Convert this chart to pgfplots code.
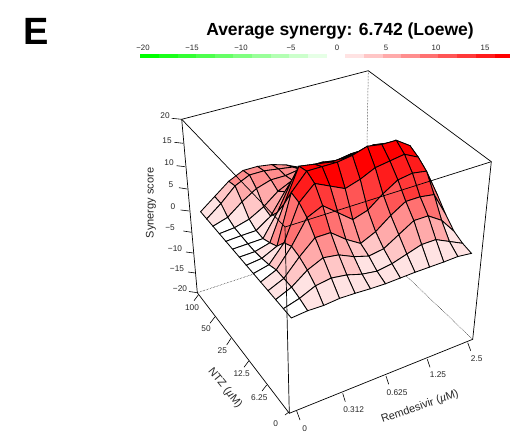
\documentclass[border=0pt]{standalone}
\usepackage{pgfplots}
\usepackage{pgfplotstable}
\pgfplotsset{compat=1.18}
\usepackage{fontspec}
\setmainfont{Liberation Sans}
\newcommand\fs[1]{\fontsize{#1}{#1}\selectfont}
\newcommand\UU{(.04+.0775*\thisrow{i})}
\newcommand\VV{(.04+.0715*\thisrow{j})}
\newcommand\WW{((\thisrow{z}+20)/40)}
\pgfplotstableread[row sep=\\]{
i j z\\
12 13 .5\\ 11 13 1\\ 10 13 1.5\\ 9 13 2\\ 8 13 2.8\\ 7 13 3.5\\ 6 13 5\\ 5 13 6\\ 4 13 6.5\\ 3 13 6.5\\ 2 13 5\\ 1 13 2.5\\ 0 13 0\\
12 12 1\\ 11 12 2\\ 10 12 2.5\\ 9 12 3\\ 8 12 4\\ 7 12 5\\ 6 12 6\\ 5 12 6.5\\ 4 12 7\\ 3 12 7\\ 2 12 5.5\\ 1 12 2.5\\ 0 12 0\\
12 11 2.5\\ 11 11 4\\ 10 11 5\\ 9 11 5\\ 8 11 5.5\\ 7 11 6.5\\ 6 11 7\\ 5 11 6.5\\ 4 11 6.5\\ 3 11 5.5\\ 2 11 3.5\\ 1 11 1\\ 0 11 0\\
12 10 4.5\\ 11 10 6\\ 10 10 7\\ 9 10 7.5\\ 8 10 7.5\\ 7 10 8\\ 6 10 8\\ 5 10 7\\ 4 10 5.5\\ 3 10 3\\ 2 10 1.2\\ 1 10 .3\\ 0 10 0\\
12 9 7\\ 11 9 9\\ 10 9 10\\ 9 9 10.5\\ 8 9 10.5\\ 7 9 10.5\\ 6 9 10.5\\ 5 9 9.5\\ 4 9 7\\ 3 9 2.5\\ 2 9 .3\\ 1 9 .2\\ 0 9 0\\
12 8 9\\ 11 8 12\\ 10 8 13\\ 9 8 13\\ 8 8 13\\ 7 8 12.5\\ 6 8 13\\ 5 8 13\\ 4 8 11\\ 3 8 5\\ 2 8 .2\\ 1 8 .1\\ 0 8 0\\
12 7 10\\ 11 7 14\\ 10 7 15\\ 9 7 15.5\\ 8 7 15\\ 7 7 14.5\\ 6 7 14.5\\ 5 7 15\\ 4 7 15.5\\ 3 7 8.5\\ 2 7 1\\ 1 7 .1\\ 0 7 0\\
12 6 10\\ 11 6 15\\ 10 6 17\\ 9 6 17\\ 8 6 17.5\\ 7 6 16.5\\ 6 6 16\\ 5 6 16\\ 4 6 16\\ 3 6 12.5\\ 2 6 2\\ 1 6 .4\\ 0 6 0\\
12 5 8\\ 11 5 14\\ 10 5 15.5\\ 9 5 15\\ 8 5 14.5\\ 7 5 13\\ 6 5 12\\ 5 5 13.5\\ 4 5 15\\ 3 5 12\\ 2 5 4.5\\ 1 5 .8\\ 0 5 0\\
12 4 6\\ 11 4 12.5\\ 10 4 13\\ 9 4 12.5\\ 8 4 10.5\\ 7 4 8\\ 6 4 7\\ 5 4 9.5\\ 4 4 12\\ 3 4 10.5\\ 2 4 5.5\\ 1 4 1.5\\ 0 4 0\\
12 3 3.5\\ 11 3 9\\ 10 3 9.5\\ 9 3 9.5\\ 8 3 7.5\\ 7 3 5\\ 6 3 3.5\\ 5 3 5.5\\ 4 3 8\\ 3 3 8\\ 2 3 5\\ 1 3 1.5\\ 0 3 0\\
12 2 1.5\\ 11 2 5\\ 10 2 7\\ 9 2 7\\ 8 2 5\\ 7 2 3\\ 6 2 2.5\\ 5 2 3.5\\ 4 2 5\\ 3 2 5.5\\ 2 2 4\\ 1 2 1.5\\ 0 2 0\\
12 1 .5\\ 11 1 2\\ 10 1 3.5\\ 9 1 3.5\\ 8 1 2.5\\ 7 1 1.5\\ 6 1 1\\ 5 1 1.5\\ 4 1 2.5\\ 3 1 3\\ 2 1 2.5\\ 1 1 1\\ 0 1 0\\
12 0 0\\ 11 0 .4\\ 10 0 .3\\ 9 0 .3\\ 8 0 .3\\ 7 0 .2\\ 6 0 .1\\ 5 0 .2\\ 4 0 .4\\ 3 0 .5\\ 2 0 .2\\ 1 0 .3\\ 0 0 0\\
}\surface
\begin{document}
\begin{tikzpicture}
\begin{axis}[width=524pt,height=430pt,scale only axis,xmin=0,xmax=524,ymin=0,ymax=430,y dir=reverse,hide axis,clip=false,
  every axis plot/.append style={forget plot},
  colormap={syn}{rgb255=(0,255,0) rgb255=(26,255,26) rgb255=(51,255,51) rgb255=(77,255,77) rgb255=(102,255,102) rgb255=(128,255,128) rgb255=(153,255,153) rgb255=(179,255,179) rgb255=(204,255,204) rgb255=(230,255,230) rgb255=(255,255,255) rgb255=(255,227,227) rgb255=(255,198,198) rgb255=(255,170,170) rgb255=(255,142,142) rgb255=(255,113,113) rgb255=(255,85,85) rgb255=(255,57,57) rgb255=(255,28,28) rgb255=(255,0,0)},
  colormap access=piecewise constant,point meta min=-18,point meta max=16]
\addplot[draw=none] coordinates {(0,0)(524,430)};
% colour bar
\addplot[draw=none,fill={rgb,255:red,0;green,255;blue,0}] coordinates {(140,54)(159,54)(159,58)(140,58)} --cycle;
\addplot[draw=none,fill={rgb,255:red,26;green,255;blue,26}] coordinates {(159,54)(178,54)(178,58)(159,58)} --cycle;
\addplot[draw=none,fill={rgb,255:red,51;green,255;blue,51}] coordinates {(178,54)(196,54)(196,58)(178,58)} --cycle;
\addplot[draw=none,fill={rgb,255:red,77;green,255;blue,77}] coordinates {(196,54)(215,54)(215,58)(196,58)} --cycle;
\addplot[draw=none,fill={rgb,255:red,102;green,255;blue,102}] coordinates {(215,54)(233,54)(233,58)(215,58)} --cycle;
\addplot[draw=none,fill={rgb,255:red,128;green,255;blue,128}] coordinates {(233,54)(252,54)(252,58)(233,58)} --cycle;
\addplot[draw=none,fill={rgb,255:red,153;green,255;blue,153}] coordinates {(252,54)(271,54)(271,58)(252,58)} --cycle;
\addplot[draw=none,fill={rgb,255:red,179;green,255;blue,179}] coordinates {(271,54)(289,54)(289,58)(271,58)} --cycle;
\addplot[draw=none,fill={rgb,255:red,204;green,255;blue,204}] coordinates {(289,54)(308,54)(308,58)(289,58)} --cycle;
\addplot[draw=none,fill={rgb,255:red,230;green,255;blue,230}] coordinates {(308,54)(327,54)(327,58)(308,58)} --cycle;
\addplot[draw=none,fill={rgb,255:red,255;green,227;blue,227}] coordinates {(345,54)(364,54)(364,58)(345,58)} --cycle;
\addplot[draw=none,fill={rgb,255:red,255;green,198;blue,198}] coordinates {(364,54)(383,54)(383,58)(364,58)} --cycle;
\addplot[draw=none,fill={rgb,255:red,255;green,170;blue,170}] coordinates {(383,54)(401,54)(401,58)(383,58)} --cycle;
\addplot[draw=none,fill={rgb,255:red,255;green,142;blue,142}] coordinates {(401,54)(420,54)(420,58)(401,58)} --cycle;
\addplot[draw=none,fill={rgb,255:red,255;green,113;blue,113}] coordinates {(420,54)(438,54)(438,58)(420,58)} --cycle;
\addplot[draw=none,fill={rgb,255:red,255;green,85;blue,85}] coordinates {(438,54)(457,54)(457,58)(438,58)} --cycle;
\addplot[draw=none,fill={rgb,255:red,255;green,57;blue,57}] coordinates {(457,54)(476,54)(476,58)(457,58)} --cycle;
\addplot[draw=none,fill={rgb,255:red,255;green,28;blue,28}] coordinates {(476,54)(495,54)(495,58)(476,58)} --cycle;
\addplot[draw=none,fill={rgb,255:red,255;green,0;blue,0}] coordinates {(495,54)(510,54)(510,58)(495,58)} --cycle;
% hidden box edges
\addplot[black,line width=.5pt,densely dotted] coordinates {(197.3,292.7)(365.4,237)(472.7,339.3)};
\addplot[black,line width=.5pt,densely dotted] coordinates {(365.4,237)(368.3,70.7)};
\addplot[black,line width=.7pt] coordinates {(181.7,119.3)(368.3,70.7)(491.3,161.7)};
% surface
\addplot[surf,shader=faceted,faceted color=black,line width=.85pt,mesh/cols=13,mesh/rows=14,point meta=\thisrow{z}]
 table[x expr={(228.3*\UU-62*\VV-39.9*\WW+289.3)/(1+.095*\UU+.152*\VV-.125*\WW)},
       y expr={(-41.77*\UU-76.1*\VV-214.7*\WW+413.3)/(1+.095*\UU+.152*\VV-.125*\WW)}] {\surface};
% front box edges
\addplot[black,line width=.7pt] coordinates {(181.7,119.3)(285,227)(491.3,161.7)};
\addplot[black,line width=.7pt] coordinates {(285,227)(289.3,413.3)};
\addplot[black,line width=.7pt] coordinates {(181.7,119.3)(197.3,292.7)(289.3,413.3)(472.7,339.3)(491.3,161.7)};
% ticks
\addplot[black,line width=.6pt] coordinates {(171.7,118.3)(181.7,119.3)};
\addplot[black,line width=.6pt] coordinates {(174.3,142.3)(183.3,143.3)};
\addplot[black,line width=.6pt] coordinates {(176.7,165.7)(185,166.7)};
\addplot[black,line width=.6pt] coordinates {(179,187.7)(187.3,189)};
\addplot[black,line width=.6pt] coordinates {(180.7,210)(189.3,211)};
\addplot[black,line width=.6pt] coordinates {(183.3,231)(191.7,232.3)};
\addplot[black,line width=.6pt] coordinates {(186,252)(193.5,253)};
\addplot[black,line width=.6pt] coordinates {(188,272)(195.5,273)};
\addplot[black,line width=.6pt] coordinates {(189,291.5)(197.3,292.7)};
\addplot[black,line width=.6pt] coordinates {(198.3,295)(194,300.7)};
\addplot[black,line width=.6pt] coordinates {(215,316.7)(210,323.3)};
\addplot[black,line width=.6pt] coordinates {(231,338.3)(226.7,345)};
\addplot[black,line width=.6pt] coordinates {(248.7,361)(244,367.3)};
\addplot[black,line width=.6pt] coordinates {(266.7,385)(262,391)};
\addplot[black,line width=.6pt] coordinates {(289.3,411.7)(285,415)};
\addplot[black,line width=.6pt] coordinates {(296.7,411)(300,420)};
\addplot[black,line width=.6pt] coordinates {(342.7,393.3)(345.3,401.7)};
\addplot[black,line width=.6pt] coordinates {(386,376)(388.7,384.3)};
\addplot[black,line width=.6pt] coordinates {(427.3,359.3)(430,367.3)};
\addplot[black,line width=.6pt] coordinates {(467.7,342.7)(470.7,350.7)};
% text
\node[font=\bfseries\fs{38}] at (axis cs:36,31) {E};
\node[font=\bfseries\fs{17.5}] at (axis cs:340,31) {Average synergy: 6.742 (Loewe)};
\foreach \x/\t in {143/−20,192/−15,241/−10,291/−5,337/0,386/5,436/10,485/15}
  {\edef\tmp{\noexpand\node[font=\noexpand\fs{7.8},text=black!85] at (axis cs:\x,48) {\t};}\tmp}
\foreach \x/\y/\t in {165/116/20,167/141/15,169/163/10,171/185/5,173/207/0,170/228/−5,175/249/−10,177/269/−15,180/289/−20,
 192/307.7/100,206/328.7/50,222.3/350.7/25,241.7/374/12.5,259.3/397.7/6.25,275.7/424/0,
 304.7/428.3/0,353.7/410/0.312,397/393/0.625,438/375/1.25,476.7/359/2.5}
  {\edef\tmp{\noexpand\node[font=\noexpand\fs{8.3},text=black!85] at (axis cs:\x,\y) {\t};}\tmp}
\node[font=\fs{11},rotate=90,text=black!85] at (axis cs:151,203) {Synergy score};
\node[font=\fs{11},rotate=-51,text=black!85] at (axis cs:225,388) {NTZ ({\itshape µ}M)};
\node[font=\fs{11},rotate=19,text=black!85] at (axis cs:420,407) {Remdesivir ({\itshape µ}M)};
\end{axis}
\end{tikzpicture}
\end{document}
